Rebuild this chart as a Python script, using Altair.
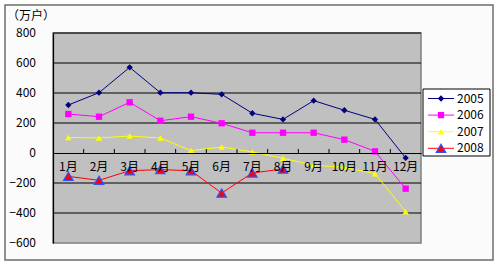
import altair as alt
import pandas as pd

months = ['1月', '2月', '3月', '4月', '5月', '6月', '7月', '8月', '9月', '10月', '11月', '12月']
years = ['2005', '2006', '2007', '2008']
y2005 = [320, 402, 571, 402, 402, 391, 265, 224, 349, 285, 224, -33]
y2006 = [260, 242, 338, 215, 242, 198, 135, 135, 135, 89, 11, -238]
y2007 = [104, 100, 113, 100, 16, 40, 7, -35, -82, -95, -138, -391]
y2008 = [-156, -182, -118, -111, -118, -267, -133, -107]
colors = ['#000080', '#ff00ff', '#ffff00', '#ff0000']
shapes = ['diamond', 'square', 'triangle-up', 'triangle-up']
y_ticks = [-600, -400, -200, 0, 200, 400, 600, 800]
grid_vals = [-400, -200, 200, 400, 600, 800]

rows = []
for yr, vals in zip(years, [y2005, y2006, y2007, y2008]):
    for m, v in zip(months, vals):
        rows.append({'month': m, 'year': yr, 'value': v})
df = pd.DataFrame(rows)

FONT = 'Noto Sans CJK JP'
W, H = 368, 210

color_scale = alt.Scale(domain=years, range=colors)
shape_scale = alt.Scale(domain=years, range=shapes)
x_scale = alt.Scale(domain=months, paddingInner=0, paddingOuter=0)
y_scale = alt.Scale(domain=[-600, 800], nice=False, zero=False)

x_axis = alt.Axis(title=None, orient='bottom', offset=-90, ticks=False, domain=True,
                  domainColor='black', domainWidth=1.2, labelAngle=0, labelPadding=8,
                  labelOverlap=False,
                  labelFont=FONT, labelFontSize=12, labelColor='black', zindex=1)
y_axis = alt.Axis(title=None, values=y_ticks, grid=False, labels=False,
                  ticks=False, domain=True, domainColor='black', domainWidth=1.2, zindex=1)

xe = alt.X('month:N', sort=months, scale=x_scale, axis=x_axis)
ye = alt.Y('value:Q', scale=y_scale, axis=y_axis)

frame = alt.Chart(alt.Data(values=[{}])).mark_rect(fill='#fbfbfb', stroke='#6e6e6e', strokeWidth=1.5).encode(
    x=alt.value(-48), x2=alt.value(440), y=alt.value(-28), y2=alt.value(227))

plot_bg = alt.Chart(alt.Data(values=[{}])).mark_rect(fill='#c0c0c0', stroke='#808080', strokeWidth=1.5).encode(
    x=alt.value(0), x2=alt.value(W), y=alt.value(0), y2=alt.value(H))

grid = alt.Chart(pd.DataFrame({'value': grid_vals})).mark_rule(color='black', strokeWidth=1.2).encode(
    y=ye, x=alt.value(0), x2=alt.value(W))

ylabels = alt.Chart(pd.DataFrame({'value': y_ticks})).mark_text(
    font=FONT, fontSize=12, align='right', baseline='middle', color='black').encode(
    y=ye, x=alt.value(-17), text=alt.Text('value:Q', format='d'))

lines = alt.Chart(df).mark_line(strokeWidth=1).encode(
    x=xe, y=ye,
    color=alt.Color('year:N', scale=color_scale, legend=None),
)

pts = alt.Chart(df[df.year != '2008']).mark_point(filled=True, size=40, opacity=1).encode(
    x=xe, y=ye,
    color=alt.Color('year:N', scale=color_scale, legend=None),
    shape=alt.Shape('year:N', scale=shape_scale, legend=None),
)

pts2008 = alt.Chart(df[df.year == '2008']).mark_point(filled=True, fill='#ff0000', stroke='#3050ff',
                                                       strokeWidth=1.2, shape='triangle-up', size=90, opacity=1).encode(
    x=xe, y=ye)

ticks = alt.Chart(pd.DataFrame({'month': months[1:]})).mark_rule(color='black').encode(
    x=alt.X('month:N', sort=months, scale=x_scale, axis=x_axis, bandPosition=0),
    y=alt.datum(0), y2=alt.value(116))

title = alt.Chart(alt.Data(values=[{}])).mark_text(text='（万户）', font=FONT, fontSize=12, align='left',
                                                     baseline='middle', color='black').encode(
    x=alt.value(-46), y=alt.value(-17))

# legend (manual)
leg_df = pd.DataFrame({'year': years, 'i': list(range(len(years)))})
leg_base = alt.Chart(leg_df).transform_calculate(ly='65.5 + 16.6 * datum.i')
leg_box = alt.Chart(alt.Data(values=[{}])).mark_rect(fill='white', stroke='black', strokeWidth=1).encode(
    x=alt.value(370), x2=alt.value(437), y=alt.value(56), y2=alt.value(123))
leg_line = leg_base.mark_rule(strokeWidth=1).encode(
    x=alt.value(375), x2=alt.value(401), y=alt.Y('ly:Q', scale=None),
    color=alt.Color('year:N', scale=color_scale, legend=None))
leg_pts = leg_base.transform_filter("datum.year != '2008'").mark_point(filled=True, size=40, opacity=1).encode(
    x=alt.value(388), y=alt.Y('ly:Q', scale=None),
    color=alt.Color('year:N', scale=color_scale, legend=None),
    shape=alt.Shape('year:N', scale=shape_scale, legend=None))
leg_pt08 = leg_base.transform_filter("datum.year == '2008'").mark_point(
    filled=True, fill='#ff0000', stroke='#3050ff', strokeWidth=1.2, shape='triangle-up', size=90, opacity=1).encode(
    x=alt.value(388), y=alt.Y('ly:Q', scale=None))
leg_txt = leg_base.mark_text(font=FONT, fontSize=12, align='left', baseline='middle', color='black').encode(
    x=alt.value(404), y=alt.Y('ly:Q', scale=None), text='year:N')

chart = alt.layer(frame, plot_bg, grid, ylabels, lines, pts, pts2008, ticks, title,
                  leg_box, leg_line, leg_pts, leg_pt08, leg_txt).properties(
    width=W, height=H,
    padding={'left': 53, 'top': 33, 'right': 79, 'bottom': 23},
    autosize=alt.AutoSizeParams(type='none'),
    background='white',
).configure_view(stroke=None)

chart.save('out.html', embed_options={'renderer': 'svg', 'actions': False})
